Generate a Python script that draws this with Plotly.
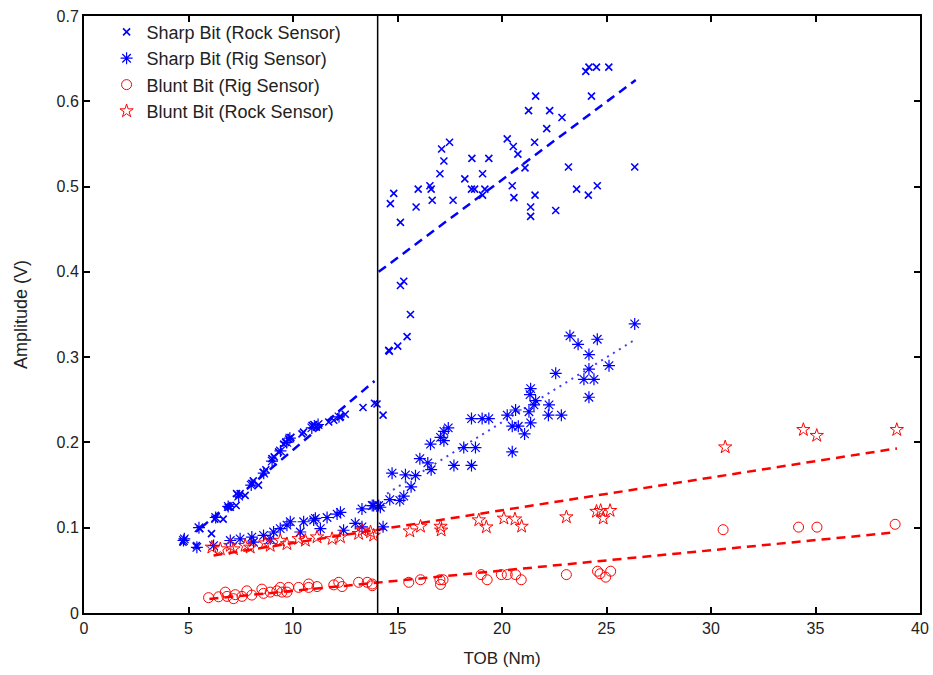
import plotly.graph_objects as go

# Sharp bit, rock sensor (x markers)
sharp_rock_x = [4.74, 5.38, 5.54, 6.10, 6.26, 6.66, 6.90, 7.00, 7.28, 7.30, 7.47, 7.71, 8.03, 8.10,
                8.35, 8.59, 8.70, 8.99, 9.10, 9.31, 9.55, 9.65, 9.79, 9.90, 10.43, 10.50, 10.91,
                11.00, 11.12, 11.71, 11.95, 12.27, 12.50, 13.35, 13.90, 14.02, 14.31,
                14.58, 14.61, 15.01, 15.14, 15.30, 15.46, 15.62,
                14.66, 14.82, 15.14, 15.89, 15.99, 16.55, 16.61, 16.66, 17.03, 17.11, 17.22, 17.49,
                17.66, 18.22, 18.56, 18.54, 18.69, 19.07, 19.18, 19.07, 19.37, 20.25, 20.54, 20.76,
                20.49, 20.57, 21.10, 21.27, 21.56, 21.61, 21.58, 21.37, 21.37, 22.14, 22.28, 22.57,
                22.87, 23.18, 23.57, 24.01, 24.16, 24.28, 24.52, 24.13, 24.56, 25.11, 26.35]
sharp_rock_y = [0.083, 0.079, 0.099, 0.093, 0.110, 0.110, 0.124, 0.124, 0.126, 0.140, 0.140, 0.138, 0.152, 0.155,
                0.150, 0.165, 0.168, 0.181, 0.183, 0.189, 0.198, 0.200, 0.204, 0.206, 0.210, 0.212, 0.220,
                0.221, 0.218, 0.224, 0.226, 0.230, 0.233, 0.241, 0.246, 0.245, 0.232,
                0.308, 0.307, 0.313, 0.384, 0.389, 0.324, 0.350,
                0.480, 0.492, 0.458, 0.476, 0.497, 0.501, 0.497, 0.484, 0.515, 0.544, 0.530, 0.552,
                0.484, 0.509, 0.533, 0.497, 0.497, 0.515, 0.497, 0.490, 0.533, 0.556, 0.547, 0.538,
                0.501, 0.487, 0.522, 0.589, 0.552, 0.606, 0.490, 0.476, 0.465, 0.568, 0.589, 0.472,
                0.581, 0.523, 0.497, 0.635, 0.640, 0.606, 0.640, 0.490, 0.501, 0.640, 0.523]

# Sharp bit, rig sensor (asterisks)
sharp_rig_x = [4.80, 5.50, 6.30, 6.90, 7.40, 8.00, 8.60, 9.00, 9.40, 9.70, 9.85, 10.90, 11.20, 12.20,
               4.76, 5.40, 6.20, 7.00, 7.47, 8.03, 8.11, 8.59, 8.91, 9.07, 9.39, 9.71, 9.87, 10.35,
               10.51, 10.99, 11.07, 11.31, 11.63, 12.11, 12.27, 12.42, 12.98, 13.30, 13.30, 13.79,
               13.86, 14.10, 14.18, 14.31,
               14.63, 15.11, 15.30, 15.65, 14.74, 15.38, 15.86, 16.07, 16.45, 16.61, 16.58, 17.06,
               17.22, 17.43, 17.22, 17.70, 18.17, 18.54, 18.54, 18.73, 19.05, 19.37, 20.25, 20.49,
               20.78, 20.49, 20.65, 21.08, 21.29, 21.37, 21.37, 21.34, 21.61, 21.53, 22.25, 22.22,
               22.84, 22.57, 23.25, 23.64, 24.16, 23.92, 24.16, 24.40, 24.16, 24.56, 25.12, 26.35]
sharp_rig_y = [0.087, 0.100, 0.112, 0.125, 0.137, 0.150, 0.164, 0.178, 0.190, 0.200, 0.205, 0.217, 0.221, 0.230,
               0.085, 0.077, 0.079, 0.085, 0.087, 0.089, 0.083, 0.091, 0.087, 0.095, 0.099, 0.103, 0.107, 0.095,
               0.107, 0.109, 0.111, 0.099, 0.112, 0.116, 0.118, 0.097, 0.105, 0.101, 0.122, 0.126,
               0.126, 0.126, 0.124, 0.101,
               0.133, 0.132, 0.137, 0.148, 0.164, 0.162, 0.161, 0.181, 0.176, 0.168, 0.198, 0.206,
               0.213, 0.217, 0.202, 0.173, 0.194, 0.228, 0.173, 0.194, 0.228, 0.228, 0.232, 0.219,
               0.219, 0.189, 0.238, 0.210, 0.236, 0.223, 0.263, 0.256, 0.249, 0.244, 0.244, 0.232,
               0.232, 0.281, 0.325, 0.315, 0.303, 0.274, 0.286, 0.274, 0.253, 0.321, 0.290, 0.339]

# Blunt bit, rig sensor (circles)
blunt_rig_x = [5.96, 6.44, 6.76, 6.84, 7.15, 7.24, 7.56, 7.79, 8.03, 8.51, 8.59, 8.91, 9.23, 9.39,
               9.47, 9.79, 9.71, 10.27, 10.75, 10.75, 11.15, 11.95, 12.19, 12.35, 13.14, 13.55, 13.79,
               13.79, 15.54, 16.10, 17.03, 17.06, 17.18, 19.00, 19.29, 19.97, 20.25, 20.65, 20.92,
               23.08, 24.57, 24.69, 24.96, 25.20, 30.58, 34.19, 35.07, 38.81]
blunt_rig_y = [0.018, 0.019, 0.0245, 0.0195, 0.0168, 0.0215, 0.0195, 0.026, 0.021, 0.028, 0.023, 0.0245, 0.026, 0.030,
               0.0245, 0.030, 0.0245, 0.030, 0.034, 0.030, 0.031, 0.033, 0.036, 0.031, 0.036, 0.036, 0.032,
               0.034, 0.036, 0.039, 0.039, 0.0335, 0.039, 0.045, 0.039, 0.045, 0.045, 0.045, 0.039,
               0.045, 0.049, 0.046, 0.042, 0.049, 0.0977, 0.1007, 0.1007, 0.104]

# Blunt bit, rock sensor (stars)
blunt_rock_x = [6.12, 6.52, 7.00, 7.15, 7.71, 7.95, 8.67, 8.91, 9.39, 9.71, 10.27, 10.59, 11.15, 11.87,
                12.27, 13.14, 13.31, 13.71, 13.86, 15.59, 16.10, 17.06, 17.09, 18.89, 19.25, 20.09,
                20.62, 20.94, 23.08, 24.52, 24.72, 24.84, 25.17, 30.68, 34.42, 35.06, 38.89]
blunt_rock_y = [0.077, 0.075, 0.079, 0.075, 0.079, 0.077, 0.082, 0.079, 0.085, 0.081, 0.087, 0.085, 0.089, 0.087,
                0.089, 0.093, 0.097, 0.095, 0.091, 0.096, 0.1015, 0.1015, 0.097, 0.109, 0.1007, 0.111,
                0.110, 0.1015, 0.1125, 0.119, 0.120, 0.111, 0.120, 0.1945, 0.2149, 0.208, 0.2149]

# Linear trend lines (end points)
fit_sharp_rock_low_x = [5.6, 13.9]
fit_sharp_rock_low_y = [0.100, 0.272]
fit_sharp_rock_high_x = [14.1, 26.4]
fit_sharp_rock_high_y = [0.400, 0.625]
fit_sharp_rig_x = [14.5, 26.4]
fit_sharp_rig_y = [0.140, 0.321]
fit_blunt_rig_x = [6.0, 38.8]
fit_blunt_rig_y = [0.0165, 0.0945]
fit_blunt_rock_x = [6.2, 38.9]
fit_blunt_rock_y = [0.0675, 0.193]

# Threshold TOB
threshold_tob = 14.05

x_ticks = [0, 5, 10, 15, 20, 25, 30, 35, 40]
y_ticks = [0, 0.1, 0.2, 0.3, 0.4, 0.5, 0.6, 0.7]
y_tick_text = ["0", "0.1", "0.2", "0.3", "0.4", "0.5", "0.6", "0.7"]

BLUE = "rgb(0,0,255)"
RED = "rgb(255,0,0)"
FONT = "Liberation Sans, Arial, sans-serif"
TEXT = "#222"

fig = go.Figure()

# trend lines first so markers sit on top
dash_style = dict(width=2.5, dash="9px,6px")
fig.add_trace(go.Scatter(x=fit_sharp_rock_low_x, y=fit_sharp_rock_low_y, mode="lines",
                         line=dict(color=BLUE, **dash_style), showlegend=False, hoverinfo="skip"))
fig.add_trace(go.Scatter(x=fit_sharp_rock_high_x, y=fit_sharp_rock_high_y, mode="lines",
                         line=dict(color=BLUE, **dash_style), showlegend=False, hoverinfo="skip"))
fig.add_trace(go.Scatter(x=fit_sharp_rig_x, y=fit_sharp_rig_y, mode="lines",
                         line=dict(color="rgba(40,40,255,0.9)", width=2, dash="2px,5px"),
                         showlegend=False, hoverinfo="skip"))
fig.add_trace(go.Scatter(x=fit_blunt_rig_x, y=fit_blunt_rig_y, mode="lines",
                         line=dict(color=RED, **dash_style), showlegend=False, hoverinfo="skip"))
fig.add_trace(go.Scatter(x=fit_blunt_rock_x, y=fit_blunt_rock_y, mode="lines",
                         line=dict(color=RED, **dash_style), showlegend=False, hoverinfo="skip"))

fig.add_trace(go.Scatter(x=sharp_rock_x, y=sharp_rock_y, mode="markers", name="Sharp Bit (Rock Sensor)",
                         marker=dict(symbol="x-thin-open", size=7, color=BLUE, line=dict(color=BLUE, width=1.6))))
fig.add_trace(go.Scatter(x=sharp_rig_x, y=sharp_rig_y, mode="markers", name="Sharp Bit (Rig Sensor)",
                         marker=dict(symbol="asterisk-open", size=10, color=BLUE,
                                     line=dict(color="rgba(0,0,255,0.85)", width=1.2))))
fig.add_trace(go.Scatter(x=blunt_rig_x, y=blunt_rig_y, mode="markers", name="Blunt Bit (Rig Sensor)",
                         marker=dict(symbol="circle-open", size=10, color=RED,
                                     line=dict(color="rgba(255,0,0,0.7)", width=1))))
fig.add_trace(go.Scatter(x=blunt_rock_x, y=blunt_rock_y, mode="markers", name="Blunt Bit (Rock Sensor)",
                         marker=dict(symbol="star-open", size=10, color=RED,
                                     line=dict(color="rgba(255,0,0,0.75)", width=1))))

fig.add_shape(type="line", x0=threshold_tob, x1=threshold_tob, y0=0, y1=0.7, xref="x", yref="y",
              line=dict(color="black", width=1.5))

axis_common = dict(showline=True, linecolor="black", linewidth=2, mirror="ticks", ticks="inside",
                   ticklen=6, tickwidth=2, tickcolor="black", showgrid=False, zeroline=False,
                   automargin=False,
                   tickfont=dict(family=FONT, size=16, color=TEXT))

fig.update_xaxes(range=[0, 40], tickvals=x_ticks, ticktext=[str(v) for v in x_ticks],
                 title=dict(text="TOB (Nm)", standoff=16, font=dict(family=FONT, size=17, color=TEXT)),
                 **axis_common)
fig.update_yaxes(range=[0, 0.7], tickvals=y_ticks, ticktext=y_tick_text,
                 title=dict(text="Amplitude (V)", standoff=24, font=dict(family=FONT, size=18, color=TEXT)),
                 **axis_common)

fig.update_layout(
    width=933, height=675,
    margin=dict(l=84, r=13, t=16, b=62),
    paper_bgcolor="white", plot_bgcolor="white",
    legend=dict(x=0.027, y=1.004, xanchor="left", yanchor="top", bgcolor="rgba(0,0,0,0)",
                font=dict(family=FONT, size=18, color=TEXT),
                itemwidth=30, tracegroupgap=0),
    showlegend=True,
)

fig.write_html("out.html")
